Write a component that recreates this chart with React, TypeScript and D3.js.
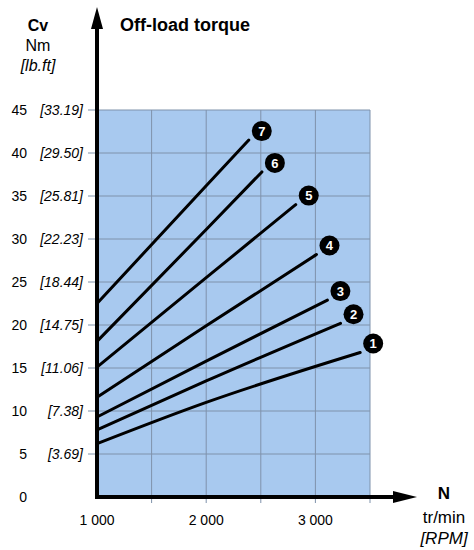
import React from "react";
import * as d3 from "d3";

const nmTicks = [0, 5, 10, 15, 20, 25, 30, 35, 40, 45];
const lbftTicks = ["", "[3.69]", "[7.38]", "[11.06]", "[14.75]", "[18.44]", "[22.23]", "[25.81]", "[29.50]", "[33.19]"];
const rpmGrid = [1500, 2000, 2500, 3000, 3500];
const rpmLabels = [1000, 2000, 3000];
const rpmLabelText = ["1 000", "2 000", "3 000"];
const seriesIds = [1, 2, 3, 4, 5, 6, 7];
const series1 = [[1000, 6.2], [2000, 11.0], [3410, 16.8]];
const series2 = [[1000, 7.8], [2000, 13.5], [3230, 20.2]];
const series3 = [[1000, 9.3], [2000, 15.8], [3110, 22.9]];
const series4 = [[1000, 11.6], [2000, 19.9], [3010, 28.2]];
const series5 = [[1000, 15.1], [2000, 25.5], [2820, 34.0]];
const series6 = [[1000, 18.1], [2000, 31.1], [2510, 37.8]];
const series7 = [[1000, 22.5], [2000, 36.2], [2390, 41.5]];
const allSeries = [series1, series2, series3, series4, series5, series6, series7];

const FONT = "'Liberation Sans', Arial, sans-serif";

export default function App() {
  const x = d3.scaleLinear().domain([1000, 3500]).range([97, 370]);
  const y = d3.scaleLinear().domain([0, 45]).range([497, 110]);
  const line = d3
    .line<number[]>()
    .x((d) => x(d[0]))
    .y((d) => y(d[1]))
    .curve(d3.curveMonotoneX);

  const x0 = x(1000);
  const y0 = y(0);
  const gridColor = "#7f92ab";

  return (
    <svg
      width={474}
      height={550}
      style={{ position: "absolute", left: 0, top: 0, background: "#fff" }}
      fontFamily={FONT}
    >
      <rect x={x0} y={y(45)} width={x(3500) - x0} height={y0 - y(45)} fill="#a8c9ef" />
      {nmTicks.filter((t) => t > 0).map((t) => (
        <line key={"h" + t} x1={x0 - 9} x2={x(3500)} y1={y(t)} y2={y(t)} stroke={gridColor} strokeWidth={1} />
      ))}
      {rpmGrid.map((r) => (
        <line key={"v" + r} x1={x(r)} x2={x(r)} y1={y(45)} y2={y0 + 6} stroke={gridColor} strokeWidth={1} />
      ))}
      {allSeries.map((s, i) => (
        <path key={"s" + i} d={line(s) || ""} fill="none" stroke="#000" strokeWidth={3} strokeLinecap="round" />
      ))}
      {allSeries.map((s, i) => {
        const end = s[s.length - 1];
        const cx = x(end[0]) + 13;
        const cy = y(end[1]) - 9;
        return (
          <g key={"l" + i}>
            <circle cx={cx} cy={cy} r={10} fill="#000" />
            <text x={cx} y={cy} dy="0.36em" textAnchor="middle" fill="#fff" fontWeight="bold" fontSize={13}>
              {seriesIds[i]}
            </text>
          </g>
        );
      })}
      <line x1={x0} x2={x0} y1={24} y2={y0 + 2} stroke="#000" strokeWidth={4} />
      <path d={`M${x0},7 L${x0 - 6},29 L${x0 + 6},29 Z`} fill="#000" />
      <line x1={x0 - 2} x2={398} y1={y0} y2={y0} stroke="#000" strokeWidth={4} />
      <path d={`M417,${y0} L393,${y0 - 6} L393,${y0 + 6} Z`} fill="#000" />
      {nmTicks.map((t, i) => (
        <g key={"yt" + t}>
          <text x={27} y={y(t)} dy="0.36em" textAnchor="end" fontSize={14} fill="#000">
            {t}
          </text>
          <text x={83} y={y(t)} dy="0.36em" textAnchor="end" fontSize={14} fontStyle="italic" fill="#000">
            {lbftTicks[i]}
          </text>
        </g>
      ))}
      {rpmLabels.map((r, i) => (
        <text key={"xt" + r} x={x(r)} y={520} dy="0.36em" textAnchor="middle" fontSize={14} fill="#000">
          {rpmLabelText[i]}
        </text>
      ))}
      <text x={38} y={25} dy="0.36em" textAnchor="middle" fontSize={16} fontWeight="bold">Cv</text>
      <text x={38} y={45} dy="0.36em" textAnchor="middle" fontSize={16}>Nm</text>
      <text x={38} y={65} dy="0.36em" textAnchor="middle" fontSize={16} fontStyle="italic">[lb.ft]</text>
      <text x={120} y={25} dy="0.36em" fontSize={18} fontWeight="bold">Off-load torque</text>
      <text x={444} y={493} dy="0.36em" textAnchor="middle" fontSize={17} fontWeight="bold">N</text>
      <text x={444} y={517} dy="0.36em" textAnchor="middle" fontSize={17}>tr/min</text>
      <text x={444} y={538} dy="0.36em" textAnchor="middle" fontSize={17} fontStyle="italic">[RPM]</text>
    </svg>
  );
}
